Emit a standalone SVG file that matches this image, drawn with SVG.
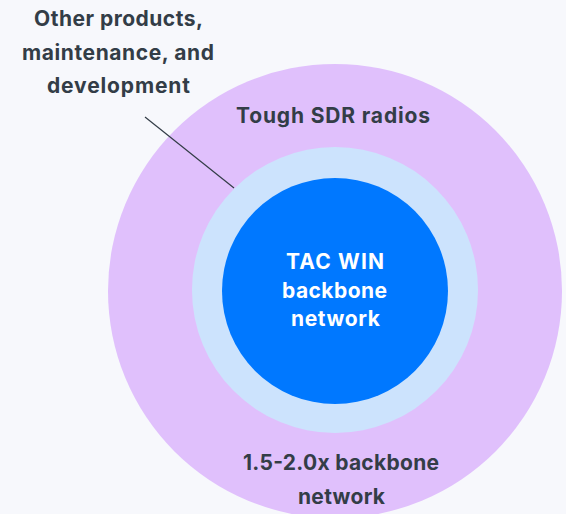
<svg xmlns="http://www.w3.org/2000/svg" width="566" height="514" viewBox="0 0 566 514">
  <style>
    .lbl { font-family: Inter, "Liberation Sans", sans-serif; font-weight: 700; font-size: 21px; fill: #333d47; }
    .core { font-family: Inter, "Liberation Sans", sans-serif; font-weight: 700; font-size: 21px; fill: #ffffff; }
  </style>
  <rect width="566" height="514" fill="#f7f8fc"/>
  <g id="outer-ring">
    <circle cx="335" cy="291" r="227" fill="#e0c0fc"/>
  </g>
  <g id="middle-ring">
    <circle cx="335" cy="290" r="143" fill="#cce3fd"/>
  </g>
  <g id="core">
    <circle cx="335" cy="291" r="113" fill="#0078ff"/>
    <text class="core" x="286" y="269" textLength="98" lengthAdjust="spacing">TAC WIN</text>
    <text class="core" x="282" y="298" textLength="105" lengthAdjust="spacing">backbone</text>
    <text class="core" x="291" y="326" textLength="89" lengthAdjust="spacing">network</text>
  </g>
  <g id="labels">
    <text class="lbl" x="34" y="26" textLength="169" lengthAdjust="spacing">Other products,</text>
    <text class="lbl" x="22" y="60" textLength="192" lengthAdjust="spacing">maintenance, and</text>
    <text class="lbl" x="47" y="93" textLength="143" lengthAdjust="spacing">development</text>
    <text class="lbl" x="236" y="123" textLength="194" lengthAdjust="spacing">Tough SDR radios</text>
    <text class="lbl" x="243" y="470" textLength="196" lengthAdjust="spacing">1.5-2.0x backbone</text>
    <text class="lbl" x="298" y="504" textLength="87" lengthAdjust="spacing">network</text>
  </g>
  <g id="connectors">
    <line x1="145" y1="117" x2="234" y2="188" stroke="#333d47" stroke-width="1.2"/>
  </g>
</svg>
